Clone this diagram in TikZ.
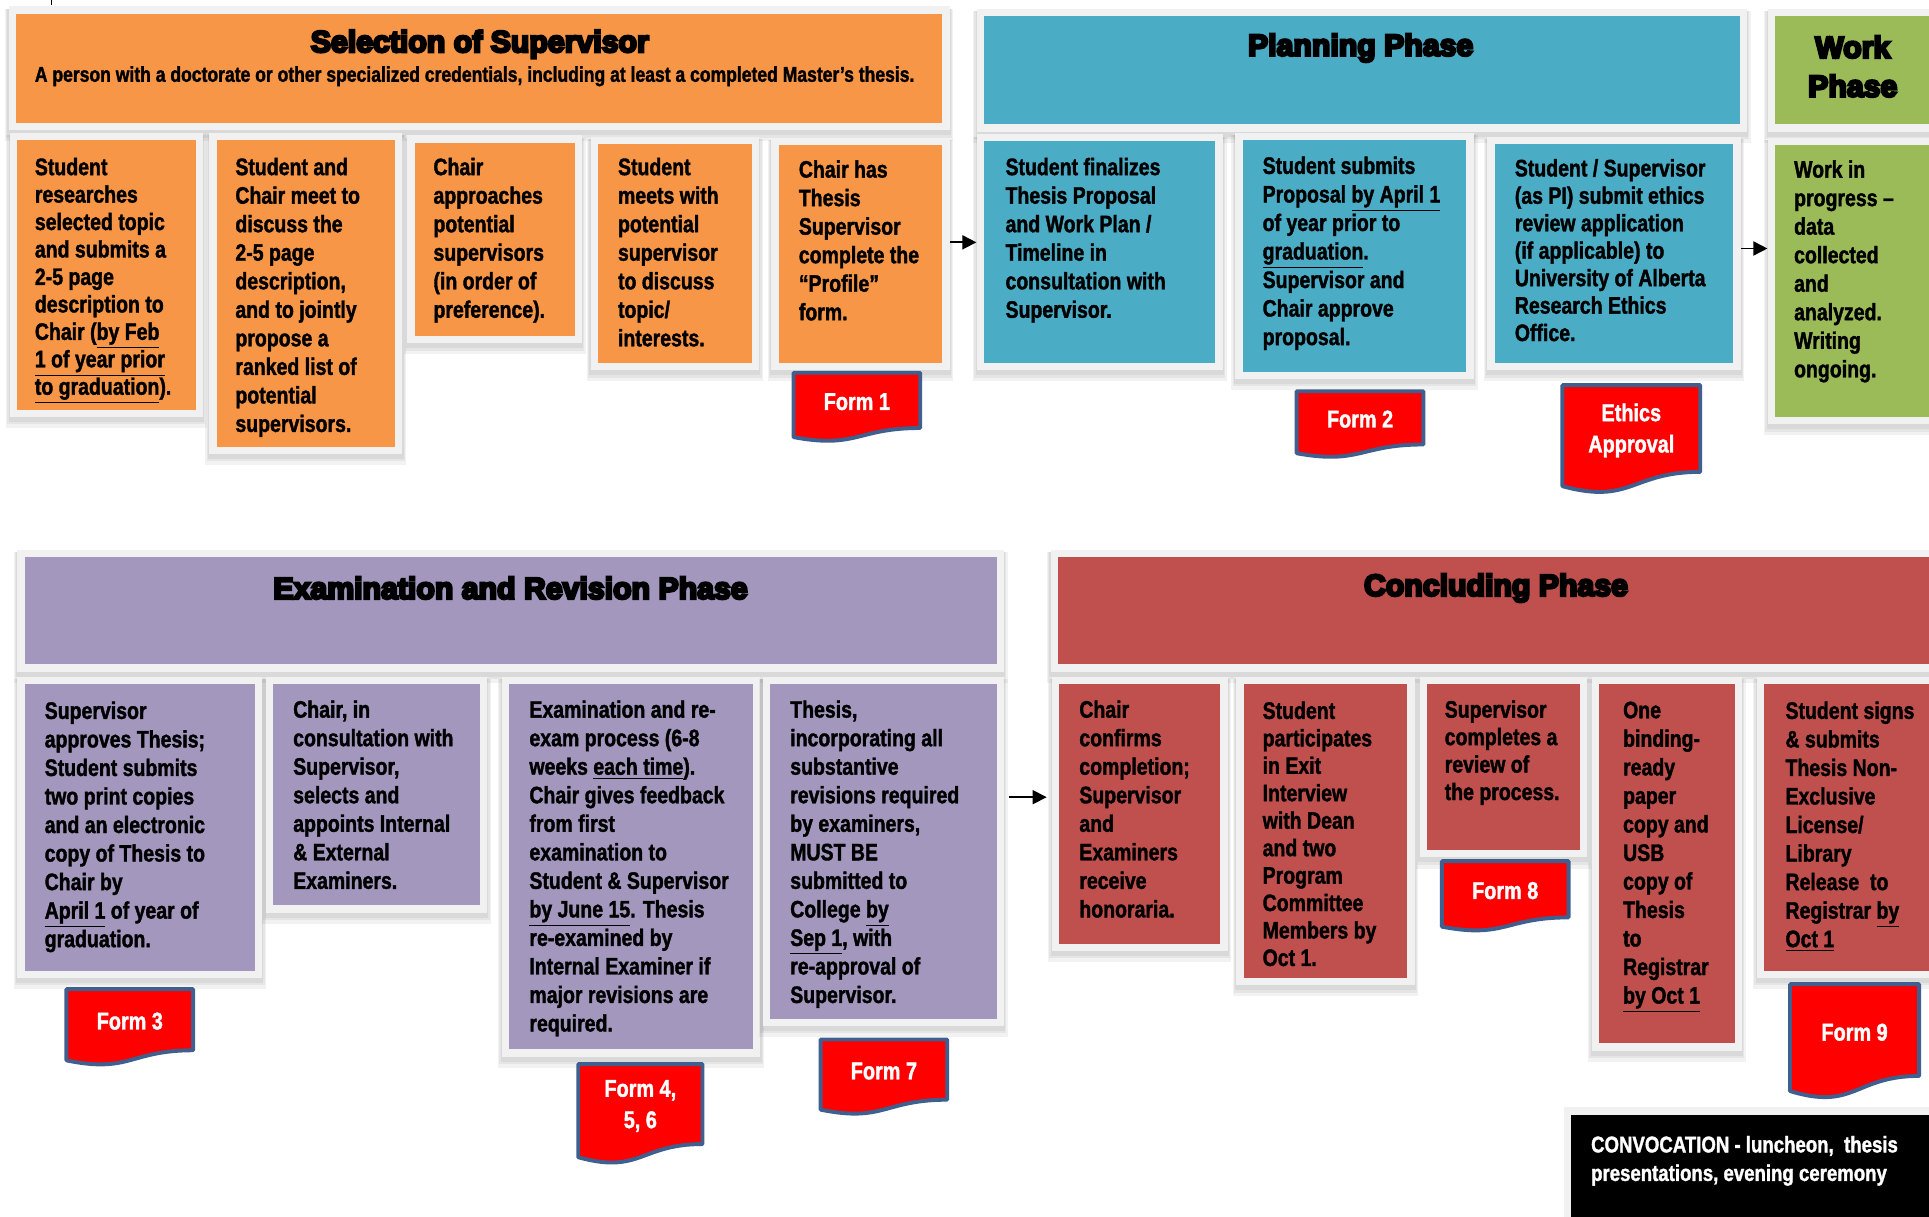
\documentclass[tikz,border=0pt]{standalone}
\usepackage{fontspec}
\setmainfont{Liberation Sans}[FakeStretch=0.82,BoldFeatures={FakeBold=1.5}]
\newfontfamily\ttlfont{Liberation Sans}[UprightFont={* Bold},UprightFeatures={FakeBold=8}]
\usetikzlibrary{fit,arrows.meta}
\definecolor{orangeA}{HTML}{F79646}
\definecolor{blueA}{HTML}{4BACC6}
\definecolor{greenA}{HTML}{9BBB59}
\definecolor{purpleA}{HTML}{A397BE}
\definecolor{redA}{HTML}{C0504D}
\definecolor{framec}{HTML}{F1F1F1}
\definecolor{formred}{HTML}{FF0000}
\definecolor{formedge}{HTML}{3F5F8F}
\tikzset{
  btxt/.style={anchor=north west, inner sep=0pt, align=left, text=black,
    font=\fontsize{11}{13.2}\selectfont\bfseries},
  tight/.style={font=\fontsize{11}{12.7}\selectfont\bfseries},
  ttl/.style={inner sep=0pt, align=center, text=black,
    font=\ttlfont\fontsize{14}{18}\selectfont},
  ftxt/.style={inner sep=0pt, align=center, text=white,
    font=\fontsize{11.2}{14.5}\selectfont\bfseries},
  formst/.style={fill=formred, draw=formedge, line width=1.8pt, line join=round},
  arr/.style={-{Triangle[length=6.5pt,width=6.5pt]}, line width=0.8pt, black},
  framest/.style={fill=framec, inner sep=0pt, draw=none},
}
% box: name, x0, y0, x1, y1 (coloured area), colour
\newcommand\pbox[6]{%
  \fill[black,opacity=.05] (#2-9,#3-4) rectangle (#4+9,#5+15);
  \fill[black,opacity=.05] (#2-8,#3-4) rectangle (#4+8,#5+12);
  \fill[black,opacity=.05] (#2-7,#3-4) rectangle (#4+7,#5+10);
  \node[framest, fit={(#2-6,#3-6) (#4+6,#5+6)}] (#1) {};
  \fill[#6] (#2,#3) rectangle (#4,#5);
}
% form document: name, x0, y0, x1, y1, label
\newcommand\formdoc[6]{%
  \pgfmathsetmacro\fw{#4-#2}\pgfmathsetmacro\fh{#5-#3}%
  \path[formst] (#2,#3) -- (#4,#3) -- (#4,#3+0.802*\fh)
    .. controls (#2+0.5*\fw,#3+0.802*\fh) and (#2+0.5*\fw,#3+1.107*\fh) .. (#2,#3+0.934*\fh) -- cycle;
  \node[ftxt] (#1) at (#2+0.5*\fw,#3+0.42*\fh) {#6};
}
\begin{document}
\begin{tikzpicture}[x=0.02cm,y=-0.02cm]
\useasboundingbox (0,0) rectangle (1568,989);
\clip (0,0) rectangle (1568,989);
\fill[white] (0,0) rectangle (1568,989);
\draw[line width=0.6pt] (42,0) -- (42,4);

% ---------------- top row ----------------
\pbox{selH}{13}{11}{766}{100}{orangeA}
\node[ttl] (selT) at (390,36) {Selection of Supervisor};
\node[anchor=west, inner sep=0pt, font=\fontsize{9.9}{11}\selectfont\bfseries] (selS) at (28,62)
  {A person with a doctorate or other specialized credentials, including at least a completed Master’s thesis.};

\pbox{planH}{800}{13}{1414}{101}{blueA}
\node[ttl] (planT) at (1106,39) {Planning Phase};

\pbox{workH}{1443}{13}{1590}{101}{greenA}
\node[ttl] (workT) at (1506,54) {Work\\Phase};

\pbox{A1}{14}{114}{159}{333}{orangeA}
\node[btxt,tight] (A1t) at (28,128) {Student\\researches\\selected topic\\and submits a\\2-5 page\\description to\\Chair (\underline{by Feb}\\\underline{1 of year prior}\\\underline{to graduation}).};
\pbox{A2}{176}{114}{321}{363}{orangeA}
\node[btxt] (A2t) at (191,128) {Student and\\Chair meet to\\discuss the\\2-5 page\\description,\\and to jointly\\propose a\\ranked list of\\potential\\supervisors.};
\pbox{A3}{337}{116}{467}{273}{orangeA}
\node[btxt] (A3t) at (352,128) {Chair\\approaches\\potential\\supervisors\\(in order of\\preference).};
\pbox{A4}{486}{117}{611}{295}{orangeA}
\node[btxt] (A4t) at (502,128) {Student\\meets with\\potential\\supervisor\\to discuss\\topic/\\interests.};
\pbox{A5}{633}{118}{766}{295}{orangeA}
\node[btxt] (A5t) at (649,130) {Chair has\\Thesis\\Supervisor\\complete the\\“Profile”\\form.};

\pbox{P1}{800}{115}{988}{295}{blueA}
\node[btxt] (P1t) at (817,128) {Student finalizes\\Thesis Proposal\\and Work Plan /\\Timeline in\\consultation with\\Supervisor.};
\pbox{P2}{1010}{114}{1192}{302}{blueA}
\node[btxt] (P2t) at (1026,127) {Student submits\\Proposal \underline{by April 1}\\of year prior to\\\underline{graduation}.\\Supervisor and\\Chair approve\\proposal.};
\pbox{P3}{1215}{117}{1409}{295}{blueA}
\node[btxt,tight] (P3t) at (1231,129) {Student / Supervisor\\(as PI) submit ethics\\review application\\(if applicable) to\\University of Alberta\\Research Ethics\\Office.};

\pbox{W}{1443}{118}{1590}{339}{greenA}
\node[btxt] (Wt) at (1458,130) {Work in\\progress –\\data\\collected\\and\\analyzed.\\Writing\\ongoing.};

\formdoc{F1}{645}{303}{748}{359}{Form 1}
\formdoc{F2}{1054}{318}{1157}{372}{Form 2}
\formdoc{FE}{1270}{313}{1382}{401}{Ethics\\Approval}

\draw[arr] (A5.east |- 0,197) -- (P1.west |- 0,197);
\draw[arr] (P3.east |- 0,202) -- (W.west |- 0,202);

% ---------------- bottom row ----------------
\pbox{exH}{20}{453}{810}{540}{purpleA}
\node[ttl] (exT) at (415,478) {Examination and Revision Phase};
\pbox{coH}{860}{453}{1590}{540}{redA}
\node[ttl] (coT) at (1216,478) {Concluding Phase};

\pbox{E1}{20}{556}{207}{789}{purpleA}
\node[btxt] (E1t) at (36,570) {Supervisor\\approves Thesis;\\Student submits\\two print copies\\and an electronic\\copy of Thesis to\\Chair by\\\underline{April 1} of year of\\graduation.};
\pbox{E2}{222}{556}{390}{736}{purpleA}
\node[btxt] (E2t) at (238,569) {Chair, in\\consultation with\\Supervisor,\\selects and\\appoints Internal\\\& External\\Examiners.};
\pbox{E3}{414}{556}{612}{853}{purpleA}
\node[btxt] (E3t) at (430,569) {Examination and re-\\exam process (6-8\\weeks \underline{each time}).\\Chair gives feedback\\from first\\examination to\\Student \& Supervisor\\\underline{by June 15}. Thesis\\re-examined by\\Internal Examiner if\\major revisions are\\required.};
\pbox{E4}{626}{556}{810}{828}{purpleA}
\node[btxt] (E4t) at (642,569) {Thesis,\\incorporating all\\substantive\\revisions required\\by examiners,\\MUST BE\\submitted to\\College \underline{by}\\\underline{Sep 1}, with\\re-approval of\\Supervisor.};

\formdoc{F3}{54}{804}{157}{866}{Form 3}
\formdoc{F456}{470}{865}{571}{946}{Form 4,\\5, 6}
\formdoc{F7}{667}{845}{770}{906}{Form 7}

\pbox{C1}{861}{556}{992}{767}{redA}
\node[btxt] (C1t) at (877,569) {Chair\\confirms\\completion;\\Supervisor\\and\\Examiners\\receive\\honoraria.};
\pbox{C2}{1011}{556}{1144}{795}{redA}
\node[btxt,tight] (C2t) at (1026,570) {Student\\participates\\in Exit\\Interview\\with Dean\\and two\\Program\\Committee\\Members by\\Oct 1.};
\pbox{C3}{1160}{556}{1284}{691}{redA}
\node[btxt,tight] (C3t) at (1174,569) {Supervisor\\completes a\\review of\\the process.};
\pbox{C4}{1300}{556}{1410}{848}{redA}
\node[btxt] (C4t) at (1319,570) {One\\binding-\\ready\\paper\\copy and\\USB\\copy of\\Thesis\\to\\Registrar\\\underline{by Oct 1}};
\pbox{C5}{1434}{556}{1590}{789}{redA}
\node[btxt] (C5t) at (1451,570) {Student signs\\\& submits\\Thesis Non-\\Exclusive\\License/\\Library\\Release\ \ to\\Registrar \underline{by}\\\underline{Oct 1}};

\formdoc{F8}{1172}{700}{1275}{757}{Form 8}
\formdoc{F9}{1455}{800}{1560}{893}{Form 9}

\draw[arr, shorten <=2.2pt, shorten >=2.2pt] (E4.east |- 0,648) -- (C1.west |- 0,648);

% convocation
\fill[framec] (1271,900) rectangle (1590,1000);
\fill[black] (1277,906) rectangle (1590,1000);
\node[anchor=north west, inner sep=0pt, align=left, text=white,
  font=\fontsize{10.5}{13.2}\selectfont\bfseries] (conv) at (1293,923)
  {CONVOCATION - luncheon,\ \ thesis\\presentations, evening ceremony};
\end{tikzpicture}
\end{document}
